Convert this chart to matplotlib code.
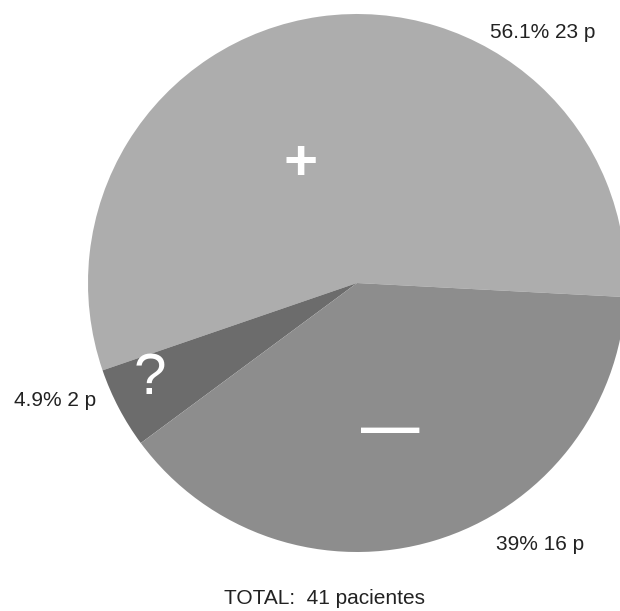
import matplotlib
matplotlib.use('Agg')
import matplotlib.pyplot as plt

plt.rcParams['font.family'] = ['Liberation Sans', 'DejaVu Sans']

# patient counts per result
groups = ['+', '?', '\u2014']
counts = [23, 2, 16]
colors = ['#adadad', '#6c6c6c', '#8d8d8d']
total_label = 'TOTAL:  {} pacientes'


def main():
    total = sum(counts)

    fig = plt.figure(figsize=(6.2, 6.11), dpi=100)
    ax = fig.add_axes([0, 0, 1, 1])

    # pie in pixel-like coordinates
    cx, cy, r = 357, 328, 269
    wedges, _ = ax.pie(counts, colors=colors, startangle=-3, counterclock=True,
                       center=(cx, cy), radius=r, frame=True,
                       wedgeprops=dict(linewidth=0))
    ax.set_xlim(0, 620)
    ax.set_ylim(0, 611)
    ax.set_aspect('equal')
    ax.axis('off')

    # symbols inside the slices
    ax.text(301, 446, groups[0], fontsize=42, fontweight='bold', color='white',
            ha='center', va='center')
    ax.text(150, 232, groups[1], fontsize=42, color='white',
            ha='center', va='center')
    ax.text(390, 180, groups[2], fontsize=42, fontweight='bold', color='white',
            ha='center', va='center')

    # percentage / count labels
    label_pos = [(543, 579), (55, 211), (540, 66)]
    for n, (x, y) in zip(counts, label_pos):
        pct = round(n / total * 100, 1)
        ax.text(x, y, '{:g}% {} p'.format(pct, n), fontsize=15, color='#222222',
                ha='center', va='center')

    ax.text(325, 13, total_label.format(total), fontsize=15, color='#222222',
            ha='center', va='center')

    fig.savefig('out.png', dpi=100, facecolor='white')


if __name__ == '__main__':
    main()
